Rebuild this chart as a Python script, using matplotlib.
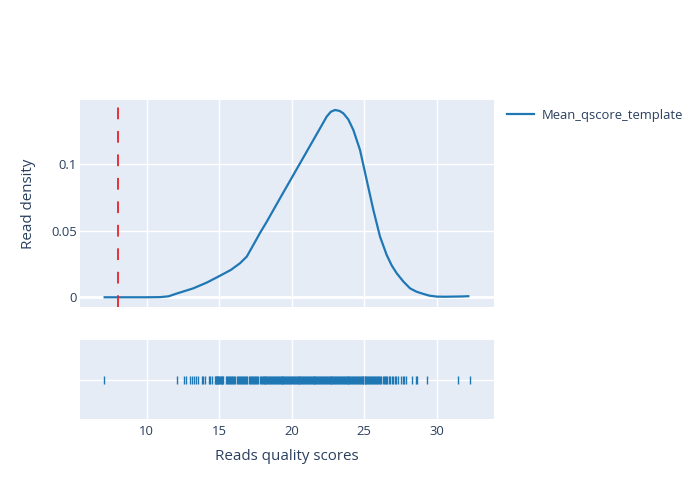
import matplotlib
matplotlib.use("Agg")
import matplotlib.pyplot as plt

plt.rcParams['font.family'] = ['Open Sans', 'DejaVu Sans']

# KDE curve
kde_x = [7.1, 8.0, 9.0, 10.0, 10.9, 11.5, 12.07, 12.6, 13.21, 14.14, 15.06, 15.8, 16.43,
         16.9, 17.35, 17.8, 18.28, 19.19, 20.11, 21.03, 21.95, 22.41, 22.7, 22.99, 23.3,
         23.56, 23.9, 24.25, 24.71, 25.17, 25.63, 26.09, 26.55, 26.9, 27.24, 27.7, 28.16,
         28.6, 29.08, 29.5, 30.0, 30.6, 31.14, 31.7, 32.18]
kde_y = [0.0, 0.0, 0.0, 0.0, 0.0001, 0.0007, 0.0028, 0.0046, 0.0067, 0.011, 0.0162, 0.0205,
         0.0255, 0.0305, 0.0392, 0.048, 0.0567, 0.0742, 0.0917, 0.1092, 0.1267, 0.1355,
         0.1392, 0.1405, 0.1398, 0.138, 0.1335, 0.1255, 0.1105, 0.088, 0.0655, 0.0455,
         0.0317, 0.0238, 0.018, 0.0118, 0.0067, 0.0042, 0.0025, 0.0012, 0.0005, 0.0004,
         0.0005, 0.0006, 0.0008]

# rug values (one tick per read)
rug_low = [7.04, 12.12, 12.56, 12.70, 13.02, 13.11, 13.27, 13.39, 13.53, 13.78, 13.89,
           14.03, 14.27, 14.36, 14.52, 14.72, 14.76, 14.8, 14.85, 14.9, 14.95, 15.0,
           15.05, 15.1, 15.16, 15.21, 15.27, 15.48, 15.55, 15.6, 15.68, 15.74, 15.8, 15.9,
           15.97, 16.05, 16.1, 16.2, 16.27, 16.35, 16.42, 16.5, 16.58, 16.66, 16.72, 16.8,
           16.88, 16.95, 17.02, 17.1, 17.18, 17.26, 17.33, 17.4, 17.48, 17.56, 17.63, 17.7,
           17.78, 17.85, 17.92]
rug_mid = [18.0, 18.06, 18.13, 18.19, 18.26, 18.32, 18.39, 18.45, 18.52, 18.58, 18.65,
           18.71, 18.78, 18.84, 18.91, 18.97, 19.04, 19.1, 19.17, 19.23, 19.3, 19.36,
           19.43, 19.49, 19.56, 19.62, 19.69, 19.75, 19.82, 19.88, 19.95, 20.01, 20.08,
           20.14, 20.21, 20.27, 20.34, 20.4, 20.47, 20.53, 20.6, 20.66, 20.73, 20.79,
           20.86, 20.92, 20.99, 21.05, 21.12, 21.18, 21.25, 21.31, 21.38, 21.44, 21.51,
           21.57, 21.64, 21.7, 21.77, 21.83, 21.9, 21.96, 22.03, 22.09, 22.16, 22.22,
           22.29, 22.35, 22.42, 22.48, 22.55, 22.61, 22.68, 22.74, 22.81, 22.87, 22.94,
           23.0, 23.07, 23.13, 23.2, 23.26, 23.33, 23.39, 23.46, 23.52, 23.59, 23.65,
           23.72, 23.78, 23.85, 23.91, 23.98, 24.04, 24.11, 24.17, 24.24, 24.3, 24.37,
           24.43, 24.5, 24.56, 24.63, 24.69, 24.76, 24.82, 24.89, 24.95, 25.02, 25.08,
           25.15, 25.21, 25.28, 25.34, 25.41, 25.47, 25.54, 25.6, 25.67, 25.73, 25.8,
           25.88, 25.95, 26.03, 26.1, 26.18, 26.27, 26.35, 26.44, 26.52, 26.6, 26.7,
           26.8, 26.9, 26.99]
rug_high = [27.1, 27.2, 27.33, 27.57, 27.66, 27.77, 27.9, 28.27, 28.55, 28.65, 29.3,
            31.45, 32.3]

threshold = 8.0
xticks = [10, 15, 20, 25, 30]
yticks = [0, 0.05, 0.1]
ytick_labels = ['0', '0.05', '0.1']

blue = '#1f77b4'
bg = '#e5ecf6'
txt = '#2a3f5f'

fig = plt.figure(figsize=(7, 5), dpi=100)
ax = fig.add_axes([80/700, 1-307/500, 414/700, 207/500])
ax2 = fig.add_axes([80/700, 1-419/500, 414/700, 79/500])

for a in (ax, ax2):
    a.set_facecolor(bg)
    for s in a.spines.values():
        s.set_visible(False)
    a.set_xlim(5.40, 33.95)
    a.set_xticks(xticks)
    a.set_axisbelow(True)
    a.grid(True, color='white', linewidth=1)
    a.tick_params(length=0, labelsize=9.4, labelcolor=txt)

ax.plot(kde_x, kde_y, color=blue, linewidth=1.6, label='Mean_qscore_template')
ax.axvline(threshold, color='#e8222a', linewidth=1.3, dashes=(6.5, 6.5))
ax.axhline(0, color='white', linewidth=2, zorder=0.9)
ax.set_ylim(-0.0073, 0.148)
ax.set_yticks(yticks)
ax.set_yticklabels(ytick_labels)
ax.tick_params(axis='x', labelbottom=False)
ax.tick_params(axis='y', pad=2)
ax.set_ylabel('Read density', fontsize=10.9, color=txt, labelpad=11)

rug = rug_low + rug_mid + rug_high
ax2.plot(rug, [0]*len(rug), linestyle='none', marker='|', markersize=5.8,
         markeredgewidth=1.0, color=blue)
ax2.set_ylim(-0.5, 0.5)
ax2.set_yticks([0])
ax2.set_yticklabels([])
ax2.tick_params(axis='x', pad=4)
ax2.set_xlabel('Reads quality scores', fontsize=10.9, color=txt, labelpad=8)

fig.legend(loc='center left', bbox_to_anchor=(507/700, 1-115/500), frameon=False,
           borderpad=0, borderaxespad=0, handlelength=2.1, handletextpad=0.55,
           fontsize=9.4, labelcolor=txt)

fig.savefig('out.png', dpi=100)
